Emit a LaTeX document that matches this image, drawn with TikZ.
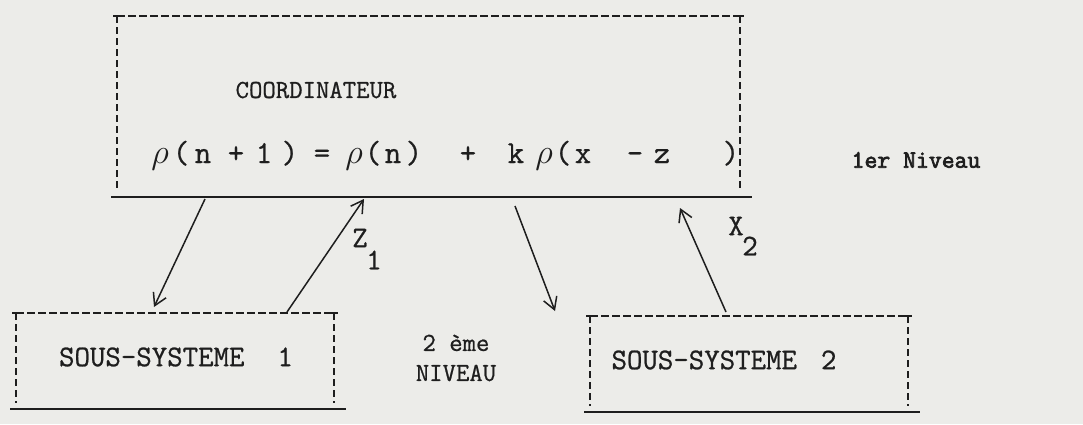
\documentclass[tikz,border=0pt]{standalone}
\usepackage{fontspec}
\setmonofont{Latin Modern Mono}[FakeBold=0.8]
\newfontfamily\lvlfont{Latin Modern Mono}[FakeBold=2.8]
\usetikzlibrary{arrows.meta,calc}
\definecolor{paper}{RGB}{236,236,233}
\definecolor{ink}{RGB}{30,30,30}
\tikzset{
  tbox/.style={inner sep=0pt, outer sep=0pt},
  dsh/.style={ink, line width=1pt, dash pattern=on 4pt off 1.5pt},
  vdsh/.style={ink, line width=1pt, dash pattern=on 3.5pt off 2pt},
  sol/.style={ink, line width=1.2pt},
  arr/.style={ink, line width=0.75pt, -{Straight Barb[length=6pt,width=7pt]}},
  txt/.style={ink, font=\fontsize{13}{15}\selectfont\ttfamily, inner sep=0pt},
  stxt/.style={ink, font=\fontsize{15}{17}\selectfont\ttfamily, inner sep=0pt},
  ftxt/.style={ink, font=\fontsize{16}{18}\selectfont\ttfamily, inner sep=0pt},
  lvl/.style={ink, font=\fontsize{12.5}{14}\selectfont\lvlfont, inner sep=0pt}
}
\begin{document}
\begin{tikzpicture}[x=0.5pt,y=-0.5pt]
\fill[paper] (0,0) rectangle (1083,424);
\useasboundingbox (0,0) rectangle (1083,424);

% boxes
\node[tbox, minimum width=311.5pt, minimum height=89.5pt] (coord) at (428.5,105.5) {};
\node[tbox, minimum width=159pt, minimum height=47pt] (sub1) at (175,360) {};
\node[tbox, minimum width=159pt, minimum height=47pt] (sub2) at (749,363) {};

\foreach \b in {coord,sub1,sub2}{
  \draw[dsh] (\b.north west) -- (\b.north east);
  \draw[vdsh] (\b.north west) -- ([yshift=2pt]\b.south west);
  \draw[vdsh] (\b.north east) -- ([yshift=2pt]\b.south east);
  \draw[sol] ([xshift=-3pt,yshift=-1pt]\b.south west) -- ([xshift=6pt,yshift=-1pt]\b.south east);
  \draw[ink, line width=0.8pt] ([xshift=-2pt]\b.north west) -- ([xshift=2pt]\b.north west);
  \draw[ink, line width=0.8pt] ([xshift=-2pt]\b.north east) -- ([xshift=2pt]\b.north east);
}

% texts
\node[txt] (title) at (316,90) {COORDINATEUR};
\foreach \x/\t [count=\i] in {160/$\rho$,181/(,203/n,236/+,264/1,290/),322/=,354/$\rho$,373/(,393/n,414/),468/+,516/k,544/$\rho$,563/(,583/x,635/-,662/z,731/)}{
  \node[ftxt, anchor=base] (f\i) at (\x,163) {\t};
}
\node[lvl] (lvl1) at (916,160) {1er Niveau};
\node[stxt] (s1) at (176,357) {SOUS-SYSTEME\hspace{1.1em}1};
\node[stxt] (s2) at (724,360) {SOUS-SYSTEME\hspace{0.8em}2};
\node[txt, align=center] (lvl2) at (456,358) {2 \`eme\\NIVEAU};

% arrows
\coordinate (a1s) at (205,199);
\coordinate (a1e) at (154,307);
\coordinate (a2s) at (287,312);
\coordinate (a2e) at (364,199);
\coordinate (a3s) at (515,206);
\coordinate (a3e) at (555,311);
\coordinate (a4s) at (726,312);
\coordinate (a4e) at (680,208);
\draw[arr] (a1s) -- (a1e);
\draw[arr] (a2s) -- (a2e);
\draw[arr] (a3s) -- (a3e);
\draw[arr] (a4s) -- (a4e);
\node[stxt] (z1) at (360,238) {Z};
\node[stxt] (z1s) at (374,260) {1};
\node[stxt] (x2) at (736,226) {X};
\node[stxt] (x2s) at (750,246) {2};
\end{tikzpicture}
\end{document}
